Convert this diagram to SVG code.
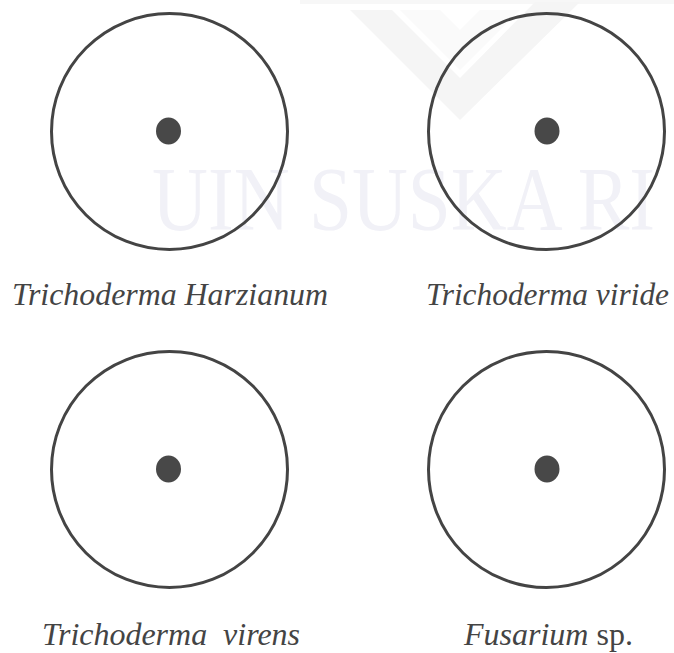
<svg xmlns="http://www.w3.org/2000/svg" width="674" height="653" viewBox="0 0 674 653">
<style>
.ring{fill:none;stroke:#444;stroke-width:3}
.dot{fill:#484848}
.lbl{font-family:"Liberation Serif","Times New Roman",serif;font-size:32px;fill:#444}
.it{font-style:italic}
.wm{font-family:"Liberation Serif","Times New Roman",serif;font-size:90px;fill:#f1f1f7}
</style>
<rect width="674" height="653" fill="#fff"/>
<g id="watermark">
<rect x="300" y="0" width="374" height="4" fill="#f7f7f7"/>
<polygon points="350,10 392,10 460,78 535,2 580,2 460,120" fill="#f5f5f5"/>
<polygon points="400,10 440,10 460,30 480,10 520,10 460,70" fill="#fafafa"/>
<text class="wm" x="152" y="230" transform="translate(152 0) scale(0.86 1) translate(-152 0)">UIN SUSKA RI</text>
</g>
<g id="harzianum">
<circle class="ring" cx="169.5" cy="131.5" r="118"/>
<ellipse class="dot" cx="168.5" cy="131" rx="12.5" ry="13.5"/>
<text class="lbl it" x="12" y="305" textLength="316" lengthAdjust="spacingAndGlyphs">Trichoderma Harzianum</text>
</g>
<g id="viride">
<circle class="ring" cx="546.5" cy="131.5" r="118"/>
<ellipse class="dot" cx="547" cy="131" rx="12.5" ry="13.5"/>
<text class="lbl it" x="426" y="305" textLength="243" lengthAdjust="spacingAndGlyphs">Trichoderma viride</text>
</g>
<g id="virens">
<circle class="ring" cx="169.5" cy="469.5" r="118"/>
<ellipse class="dot" cx="168.5" cy="469" rx="12.5" ry="13.5"/>
<text class="lbl it" x="42" y="645" textLength="258" lengthAdjust="spacingAndGlyphs" xml:space="preserve">Trichoderma  virens</text>
</g>
<g id="fusarium">
<circle class="ring" cx="546.5" cy="469.5" r="118"/>
<ellipse class="dot" cx="547" cy="469" rx="12.5" ry="13.5"/>
<text class="lbl" x="464" y="645"><tspan class="it">Fusarium</tspan> sp.</text>
</g>
<g id="connectors"></g>
</svg>
